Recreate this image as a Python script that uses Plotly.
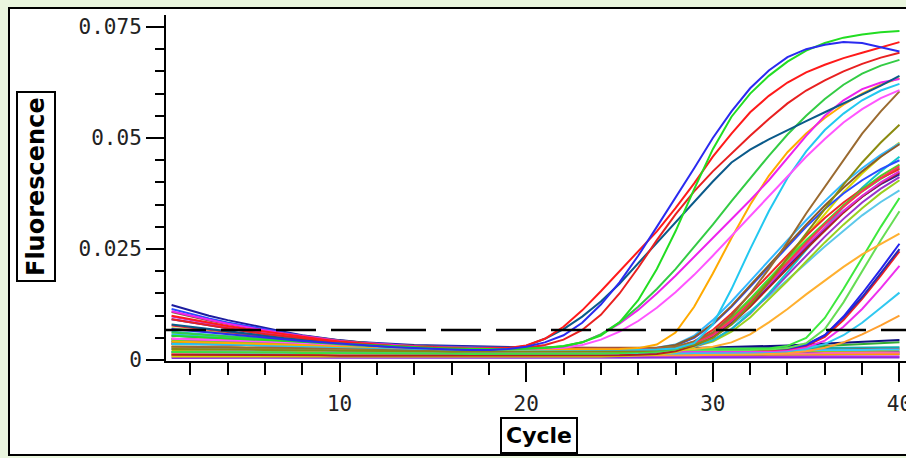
import plotly.graph_objects as go

# ---------------- data ----------------
cycles = list(range(1, 41))
threshold = 0.0068
UNIT = 1e-4  # curve values below are fluorescence in units of 0.0001

x_tick_step = 10
y_tick_step = 0.025

# early group (Ct ~21-24)
curve_01 = [70,66,62,58,54,50,46,43,40,37,34,31,29,27,25,24,23,23,25,30,40,56,84,125,175,235,300,365,432,500,560,612,652,682,700,710,716,714,705,695]
curve_02 = [55,53,51,49,47,45,43,40,38,36,34,32,30,28,27,26,25,25,25,26,28,32,40,55,85,135,205,290,385,475,548,600,640,672,697,714,726,733,738,741]
curve_03 = [100,92,84,77,70,64,58,52,47,42,38,35,32,30,28,27,26,26,27,33,48,75,112,155,200,245,290,342,398,458,510,558,595,625,648,665,680,692,704,716]
curve_04 = [92,85,78,71,65,59,54,49,44,40,36,33,31,29,27,26,25,25,25,28,34,46,68,102,150,208,270,328,380,425,466,505,543,578,607,630,650,667,681,692]
curve_05 = [80,75,69,64,59,54,50,46,42,38,35,32,30,28,26,25,24,24,26,32,48,70,98,132,172,218,265,312,358,402,445,474,497,518,538,558,578,598,618,640]
curve_06 = [62,59,56,53,50,47,44,41,38,35,33,31,29,27,26,25,24,24,24,25,27,31,40,58,85,120,160,205,255,305,358,410,460,508,550,588,620,645,663,676]
# middle group (Ct ~24-29)
curve_07 = [110,100,91,82,74,67,60,54,48,43,39,36,33,31,29,28,27,27,26,26,27,30,40,58,82,113,150,190,232,275,318,360,405,455,505,550,585,610,625,633]
curve_08 = [48,47,46,45,43,42,40,38,36,34,32,30,29,28,27,26,25,25,25,25,26,28,34,46,64,88,118,153,192,235,280,325,370,415,458,498,535,565,590,608]
curve_09 = [42,41,40,39,38,37,36,34,33,31,30,29,28,27,26,25,25,24,24,24,24,24,24,24,25,27,35,62,120,195,275,350,415,468,510,545,575,600,620,635]
curve_10 = [36,36,35,35,34,33,32,31,30,29,28,27,26,25,25,24,24,23,23,23,23,23,23,23,23,23,24,26,38,80,160,250,335,410,470,518,555,585,607,622]
curve_11 = [30,30,29,29,28,28,27,27,26,26,25,25,24,24,23,23,22,22,22,22,22,22,22,22,22,23,25,30,42,62,100,150,205,265,330,390,450,510,560,605]
curve_12 = [25,25,24,24,24,23,23,22,22,21,21,21,20,20,20,19,19,19,19,19,19,19,19,19,19,20,22,26,34,50,80,125,175,230,285,340,395,445,490,530]
# dense bundle (Ct ~29-31)
curve_13 = [115,104,94,85,77,69,62,55,49,44,40,37,34,32,31,30,29,28,28,28,27,27,27,27,27,26,26,32,50,80,120,165,210,255,300,340,375,405,430,450]
curve_14 = [78,73,68,63,58,53,49,45,41,38,35,32,30,28,27,26,25,25,25,25,25,25,24,24,24,25,25,28,42,68,105,148,192,237,280,320,355,385,410,430]
curve_15 = [18,18,18,17,17,17,17,16,16,16,16,15,15,15,15,15,14,14,14,14,14,15,15,15,16,17,19,24,36,60,95,138,183,228,270,310,348,380,408,432]
curve_16 = [58,55,52,49,46,44,42,40,38,36,34,32,30,28,27,26,25,24,24,24,24,24,24,24,25,26,28,35,55,90,132,178,225,270,315,358,398,432,462,488]
curve_17 = [98,90,82,75,68,62,57,52,47,43,39,36,33,31,29,28,27,26,26,26,25,25,25,25,25,25,26,28,36,56,88,128,170,215,258,298,336,370,400,425]
curve_18 = [12,12,12,12,11,11,11,11,11,10,10,10,10,10,10,10,10,10,10,10,10,10,11,11,11,12,14,20,33,52,82,120,162,206,250,292,332,368,398,422]
curve_19 = [124,112,100,90,81,73,64,56,50,45,41,38,36,34,33,32,31,30,30,29,28,28,27,27,27,27,27,28,36,56,86,125,168,212,255,296,334,368,396,418]
curve_20 = [38,37,36,35,34,33,32,31,30,29,28,27,26,25,24,24,23,23,23,23,22,22,22,22,22,22,23,25,30,45,70,105,148,192,236,278,318,355,386,412]
curve_21 = [72,68,63,59,55,51,47,44,41,38,35,32,30,28,26,25,24,24,24,24,24,23,23,23,23,23,24,26,30,42,64,96,136,178,222,265,305,342,376,405]
curve_22 = [25,25,24,24,24,23,23,22,22,21,21,21,20,20,20,19,19,19,19,19,19,19,19,19,19,20,22,28,38,56,80,110,144,180,218,256,292,326,356,382]
curve_23 = [30,30,29,29,28,28,27,27,26,26,25,25,24,24,23,23,22,22,22,22,22,22,22,22,22,22,22,23,25,30,40,58,85,115,148,180,210,238,262,285]
curve_24 = [8,8,8,8,8,7,7,7,7,7,7,7,7,7,7,7,7,7,7,7,7,8,8,8,9,10,12,18,30,50,85,130,180,230,280,330,378,420,458,490]
curve_25 = [64,60,57,54,51,48,45,42,39,36,34,32,30,28,27,26,25,25,25,25,25,25,25,25,25,25,26,28,32,45,70,106,150,198,248,298,345,388,425,458]
curve_26 = [108,98,89,81,73,66,60,54,49,44,40,37,34,32,30,29,28,28,28,28,28,28,27,27,27,27,28,34,52,82,122,168,214,260,305,348,388,425,458,486]
curve_27 = [42,41,40,39,38,37,36,34,33,31,30,29,28,27,26,25,25,24,24,24,24,24,24,24,24,25,26,30,40,62,95,135,178,222,266,308,348,384,415,440]
curve_28 = [48,47,46,45,43,42,40,38,36,34,32,30,29,28,27,26,25,25,25,25,25,25,25,25,25,25,26,29,38,58,90,130,175,220,264,306,345,380,410,436]
# late group (Ct ~35-38)
curve_29 = [46,45,44,43,42,41,39,37,35,33,31,30,29,28,27,26,25,25,25,25,25,25,25,25,25,25,25,25,25,25,25,25,26,32,50,95,160,230,300,365]
curve_30 = [30,30,29,29,28,28,27,27,26,26,25,25,24,24,23,23,22,22,22,22,22,22,22,22,22,22,22,22,22,22,22,23,24,27,38,70,130,200,270,335]
curve_31 = [92,85,78,71,65,59,54,49,44,40,36,33,31,29,27,26,25,25,25,25,25,25,25,25,25,25,25,25,25,25,25,25,25,26,34,56,98,150,205,262]
curve_32 = [36,36,35,35,34,33,32,31,30,29,28,27,26,25,25,24,24,23,23,23,23,23,23,23,23,23,23,23,23,23,23,23,23,25,32,52,90,138,190,245]
curve_33 = [25,25,24,24,24,23,23,22,22,21,21,21,20,20,20,19,19,19,19,19,19,19,19,19,19,19,19,19,19,19,19,19,20,22,29,44,75,115,162,212]
curve_34 = [55,53,51,49,47,45,43,40,38,36,34,32,30,28,27,26,25,25,25,25,25,25,25,25,25,25,25,25,25,25,25,25,25,27,35,56,96,142,195,250]
curve_35 = [18,18,18,17,17,17,17,16,16,16,16,15,15,15,15,15,14,14,14,14,14,14,14,15,15,15,15,15,16,16,16,17,18,20,26,36,56,84,118,152]
curve_36 = [12,12,12,12,11,11,11,11,11,10,10,10,10,10,10,10,10,10,10,10,10,10,10,10,10,10,11,11,11,12,12,13,14,16,20,28,40,58,78,100]
# no amplification
curve_37 = [12,12,12,12,11,11,11,11,11,10,10,10,10,10,10,10,10,10,10,10,10,10,10,10,11,11,11,11,11,11,11,11,12,12,12,12,12,13,13,13]
curve_38 = [30,30,29,29,28,28,27,27,26,26,25,25,24,24,23,23,22,22,22,22,22,22,22,22,22,22,22,22,22,23,23,23,23,24,24,24,25,25,26,26]
curve_39 = [18,18,18,17,17,17,17,16,16,16,16,15,15,15,15,15,15,15,15,15,15,15,15,15,15,15,15,15,15,15,16,16,16,16,16,17,17,17,18,18]
curve_40 = [8,8,8,8,8,7,7,7,7,7,7,7,7,7,7,7,7,7,7,7,7,7,7,7,7,7,7,7,7,7,7,7,8,8,8,8,8,8,8,8]
curve_41 = [36,36,35,35,34,33,32,31,30,29,28,27,26,26,25,25,25,24,24,24,24,24,24,24,24,24,24,25,25,25,25,26,26,26,27,27,28,28,29,29]
curve_42 = [22,22,22,21,21,21,20,20,20,19,19,19,18,18,18,18,18,18,18,18,18,18,18,18,18,18,18,18,18,19,19,19,19,20,20,20,21,21,21,22]
curve_43 = [14,14,14,14,13,13,13,13,13,12,12,12,12,12,12,12,12,12,12,12,12,12,12,12,12,12,12,12,12,12,12,13,13,13,13,13,14,14,14,14]
curve_44 = [5,5,5,5,5,5,5,5,5,5,5,5,5,5,5,5,5,5,5,5,5,5,5,5,5,5,5,5,5,5,5,5,5,5,5,6,6,6,6,6]
curve_45 = [48,47,46,45,43,42,40,38,36,34,32,30,29,28,27,26,25,25,24,24,24,24,24,24,24,24,24,24,25,25,26,27,28,29,30,32,34,36,38,40]
curve_46 = [42,41,40,39,38,37,36,34,33,31,30,29,28,27,26,25,25,24,24,24,24,24,24,24,24,25,25,26,27,28,29,30,31,33,35,37,39,41,43,45]
curve_47 = [26,26,25,25,25,24,24,23,23,22,22,21,21,21,20,20,20,20,20,20,20,20,20,20,20,20,20,20,20,20,21,21,21,22,22,22,23,23,24,24]
curve_48 = [16,16,16,16,15,15,15,15,15,14,14,14,14,14,14,14,14,14,14,14,14,14,14,14,14,14,14,14,14,14,14,15,15,15,15,16,16,16,17,17]

# ---------------- styles ----------------
series = [
    (curve_37, "#22bb22"), (curve_38, "#ee2222"), (curve_39, "#2b2bdd"), (curve_40, "#e020e0"),
    (curve_41, "#10b0b0"), (curve_42, "#b0c000"), (curve_43, "#ff9a00"), (curve_44, "#8a2be2"),
    (curve_45, "#33aa33"), (curve_46, "#101080"), (curve_47, "#33ccff"), (curve_48, "#ff66aa"),
    (curve_36, "#ffa030"), (curve_35, "#30c8f0"), (curve_33, "#ee30ee"), (curve_32, "#ee2020"),
    (curve_34, "#2a2ab0"), (curve_31, "#2323ee"), (curve_30, "#66dd55"), (curve_29, "#3ee83e"),
    (curve_23, "#ffb030"), (curve_22, "#5cc8ea"), (curve_21, "#9ad020"), (curve_20, "#9933cc"),
    (curve_24, "#d8d800"), (curve_25, "#10c8c8"), (curve_19, "#1c1ca0"), (curve_18, "#b02020"),
    (curve_17, "#d830d8"), (curve_16, "#33b8ff"), (curve_15, "#3ee03e"), (curve_14, "#f02828"),
    (curve_13, "#2a4cff"), (curve_26, "#8b5a2b"), (curve_27, "#55cc22"), (curve_28, "#ff3355"),
    (curve_12, "#8a8a10"), (curve_11, "#9a6a30"), (curve_10, "#22c8f0"), (curve_09, "#ffaa00"),
    (curve_08, "#ff55ff"), (curve_07, "#ee22ee"), (curve_06, "#33cc44"), (curve_05, "#0a5a8a"),
    (curve_04, "#e82020"), (curve_03, "#ff1a1a"), (curve_02, "#22dd22"), (curve_01, "#2a2af0"),
]

W, H = 906, 458
ML, MR, MT, MB = 166, 0, 15, 97
PW, PH = W - ML - MR, H - MT - MB
PAGE_BG = "#eaf6de"

def px_x(p):
    return (p - ML) / PW

def px_y(p):
    return (H - MB - p) / PH

fig = go.Figure()
for vals, col in series:
    assert len(vals) == len(cycles)
    fig.add_trace(go.Scatter(
        x=cycles, y=[v * UNIT for v in vals], mode="lines",
        line=dict(color=col, width=2), showlegend=False, hoverinfo="skip"))

tick_font = dict(family="DejaVu Sans Mono", size=21, color="#222222")

fig.update_layout(
    width=W, height=H,
    margin=dict(l=ML, r=MR, t=MT, b=MB, pad=0, autoexpand=False),
    paper_bgcolor=PAGE_BG,
    plot_bgcolor="white",
    showlegend=False,
    xaxis=dict(
        range=[0.7, 40.35], tickmode="linear", tick0=0, dtick=x_tick_step,
        ticks="outside", ticklen=19, tickwidth=2, tickcolor="black",
        showline=True, linewidth=2, linecolor="black", mirror=False, automargin=False,
        showgrid=False, zeroline=False, tickfont=tick_font, ticklabelstandoff=4,
        ticklabeloverflow="allow",
        minor=dict(ticks="outside", tick0=0, dtick=2, ticklen=12, tickwidth=2,
                   tickcolor="black", showgrid=False),
    ),
    yaxis=dict(
        range=[-0.0002, 0.0777], tickmode="linear", tick0=0, dtick=y_tick_step,
        ticks="outside", ticklen=18, tickwidth=2, tickcolor="black",
        showline=True, linewidth=2, linecolor="black", mirror=False, automargin=False,
        showgrid=False, zeroline=False, tickfont=tick_font, ticklabeloverflow="allow",
        minor=dict(ticks="outside", tick0=0, dtick=0.005, ticklen=9, tickwidth=2,
                   tickcolor="black", showgrid=False),
    ),
    shapes=[
        dict(type="rect", xref="paper", yref="paper", layer="below",
             x0=px_x(9), x1=px_x(W + 20), y0=px_y(455), y1=px_y(8),
             fillcolor="white", line=dict(color="black", width=2)),
        dict(type="line", xref="x domain", yref="y", x0=0, x1=1,
             y0=threshold, y1=threshold, layer="above",
             line=dict(color="black", width=2.5, dash="40px,15px")),
    ],
    annotations=[
        dict(text="Fluorescence", xref="paper", yref="paper",
             x=px_x(36), y=px_y(187), xanchor="center", yanchor="middle",
             textangle=-90, showarrow=False,
             font=dict(family="DejaVu Sans", size=24, color="black", weight="bold"),
             bordercolor="black", borderwidth=2, borderpad=4, bgcolor="white"),
        dict(text="Cycle", xref="paper", yref="paper",
             x=px_x(539), y=px_y(435), xanchor="center", yanchor="middle",
             showarrow=False,
             font=dict(family="DejaVu Sans", size=22, color="black", weight="bold"),
             bordercolor="black", borderwidth=2, borderpad=4, bgcolor="white"),
    ],
)

fig.write_html(
    "out.html",
    config={"displayModeBar": False, "responsive": False},
    post_script="document.body.style.margin='0';document.body.style.background='" + PAGE_BG + "';",
)
